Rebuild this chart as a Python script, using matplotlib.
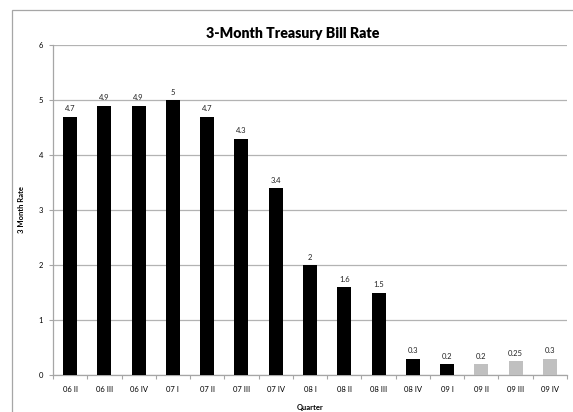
import matplotlib
matplotlib.use("Agg")
import matplotlib.pyplot as plt
from matplotlib.patches import Rectangle
import numpy as np

quarters = ["06 II", "06 III", "06 IV", "07 I", "07 II", "07 III", "07 IV",
            "08 I", "08 II", "08 III", "08 IV", "09 I", "09 II", "09 III", "09 IV"]
rates = [4.7, 4.9, 4.9, 5, 4.7, 4.3, 3.4, 2, 1.6, 1.5, 0.3, 0.2, 0.2, 0.25, 0.3]
labels = ["4.7", "4.9", "4.9", "5", "4.7", "4.3", "3.4", "2", "1.6", "1.5",
          "0.3", "0.2", "0.2", "0.25", "0.3"]
forecast = [False] * 12 + [True] * 3

plt.rcParams['font.family'] = ['Lato', 'DejaVu Sans']

W, H = 573, 412
fig = plt.figure(figsize=(W / 100, H / 100), dpi=100)
fig.patch.set_facecolor("white")

# outer chart frame (cut off at right and bottom)
fig.patches.append(Rectangle((12 / W, -0.05), 1.1, 1 - 10 / H + 0.05,
                             transform=fig.transFigure, fill=False,
                             edgecolor="#a6a6a6", lw=0.9))

ax = fig.add_axes([53 / W, 1 - 375 / H, (567 - 53) / W, (375 - 45) / H])

x = np.arange(len(quarters))
colors = ["#c0c0c0" if f else "black" for f in forecast]
ax.bar(x, rates, width=0.41, color=colors, zorder=3)

for xi, v, lab in zip(x, rates, labels):
    ax.text(xi, v + 0.08, lab, ha="center", va="bottom", fontsize=5.5, color="#222222")

ax.set_xlim(-0.5, len(quarters) - 0.5)
ax.set_ylim(0, 6)
ax.set_yticks(range(0, 7))
ax.set_xticks(x)
ax.set_xticklabels(quarters, fontsize=5.5)
ax.set_xticks(np.arange(-0.5, len(quarters)), minor=True)
ax.tick_params(axis="x", which="major", length=0, pad=8)
ax.tick_params(axis="x", which="minor", length=3, color="#a6a6a6", width=0.8)
ax.tick_params(axis="y", labelsize=5.5, length=3, color="#a6a6a6", width=0.8, pad=4)

ax.grid(axis="y", color="#b3b3b3", lw=0.9, zorder=0)
for s in ["top", "right"]:
    ax.spines[s].set_visible(False)
for s in ["left", "bottom"]:
    ax.spines[s].set_color("#a6a6a6")
    ax.spines[s].set_linewidth(0.9)

ax.set_xlabel("Quarter", fontsize=5.5, fontweight="bold", labelpad=8)
ax.set_ylabel("3 Month Rate", fontsize=5.5, fontweight="bold", labelpad=10)
fig.text(293 / W, 1 - 33 / H, "3-Month Treasury Bill Rate", ha="center", va="center",
         fontsize=10.2, fontweight="heavy")

fig.savefig("out.png", dpi=100)
